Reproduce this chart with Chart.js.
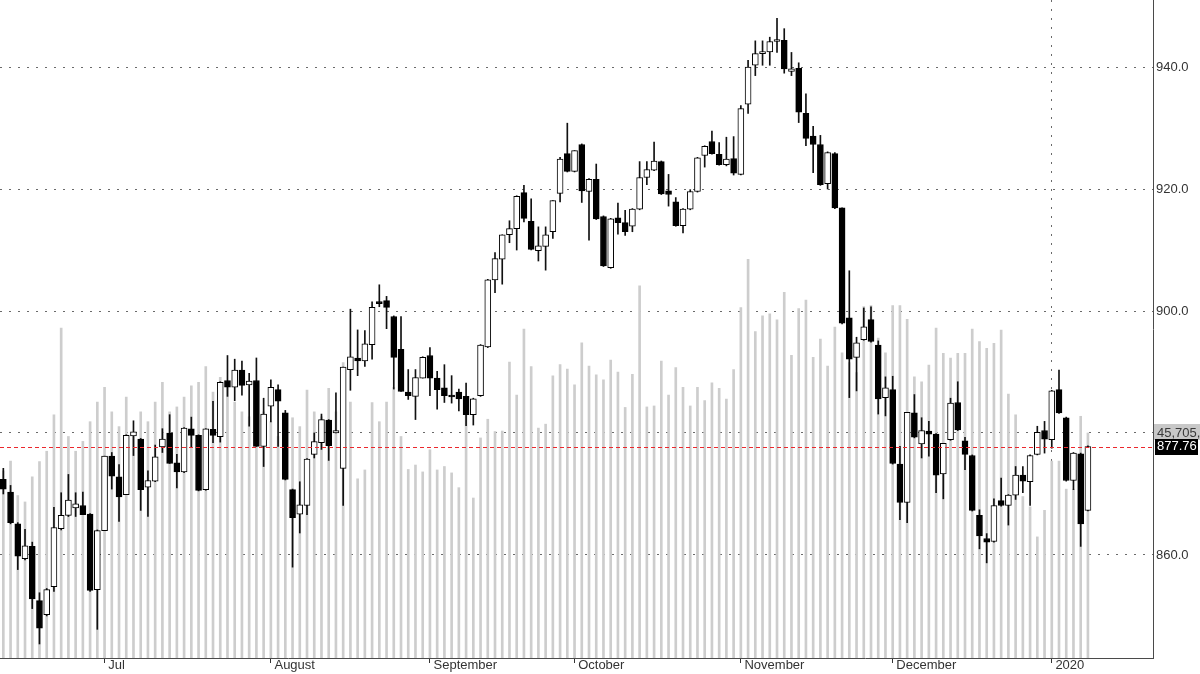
<!DOCTYPE html>
<html>
<head>
<meta charset="utf-8">
<script src="https://cdn.jsdelivr.net/npm/chart.js@4.4.1/dist/chart.umd.min.js"></script>
<style>
  html, body { margin: 0; padding: 0; background: #fff; }
  #wrap { width: 1200px; height: 674px; }
</style>
</head>
<body>
<div id="wrap"><canvas id="price-chart" width="1200" height="674"></canvas></div>
<script>
// Daily candles, mid June 2019 - early January 2020 (index = trading day)
const openPrices = [
    872.4, 870.3, 865.1, 859.4, 861.4, 852.5, 850.2, 854.8, 864.3, 866.5,
    867.7, 868.1, 866.7, 854.3, 864.0, 876.2, 872.8, 869.9, 879.5, 879.0,
    871.1, 872.1, 877.7, 880.0, 875.1, 873.6, 880.7, 879.6, 870.7, 880.6,
    879.4, 888.6, 887.5, 890.3, 887.9, 888.6, 877.8, 884.4, 887.1, 883.3,
    870.7, 866.7, 868.1, 876.5, 878.4, 882.1, 880.0, 874.2, 890.4, 892.3,
    891.8, 894.5, 901.3, 901.7, 899.1, 893.7, 886.7, 886.0, 889.0, 892.7,
    889.0, 887.4, 886.1, 886.7, 886.0, 883.0, 886.1, 894.1, 905.1, 908.5,
    912.5, 913.5, 919.4, 914.7, 909.9, 910.6, 913.0, 919.3, 925.8, 922.9,
    927.3, 919.6, 921.6, 915.5, 907.1, 915.3, 914.5, 913.9, 916.7, 921.9,
    923.1, 924.5, 919.7, 917.9, 914.0, 916.7, 919.6, 925.5, 927.8, 925.7,
    924.0, 925.0, 922.4, 933.9, 940.3, 942.2, 942.5, 944.2, 944.4, 939.3,
    939.8, 932.4, 928.7, 927.3, 920.9, 925.8, 916.9, 898.9, 892.4, 895.3,
    898.6, 894.4, 885.8, 887.1, 874.9, 868.6, 883.3, 878.2, 880.3, 879.8,
    873.3, 878.9, 885.0, 878.7, 876.3, 866.5, 862.7, 862.2, 868.9, 868.1,
    869.8, 873.1, 872.0, 876.5, 880.4, 878.9, 887.1, 882.5, 872.2, 876.6,
    867.3
];
const highPrices = [
    874.2, 871.4, 865.3, 864.2, 862.1, 853.8, 854.5, 867.8, 870.2, 873.2,
    870.2, 870.3, 866.8, 864.1, 876.2, 876.8, 874.8, 879.7, 882.0, 879.1,
    873.8, 878.0, 880.7, 883.0, 876.5, 880.9, 882.6, 879.7, 880.7, 885.2,
    888.4, 892.7, 892.1, 891.8, 889.8, 892.3, 885.7, 888.7, 887.9, 883.7,
    870.8, 872.0, 875.8, 880.0, 883.1, 882.2, 886.6, 890.8, 900.3, 896.9,
    896.8, 901.5, 904.3, 902.4, 899.2, 899.1, 890.4, 890.4, 892.5, 894.0,
    890.1, 891.2, 889.4, 887.2, 888.2, 885.7, 894.5, 905.2, 909.6, 912.5,
    914.8, 918.9, 920.6, 918.4, 913.8, 913.8, 918.1, 925.2, 930.8, 926.3,
    927.4, 921.7, 924.1, 915.6, 915.2, 917.7, 916.5, 916.8, 924.5, 924.5,
    927.7, 924.6, 922.4, 918.6, 916.8, 919.9, 925.2, 927.1, 929.5, 927.6,
    928.5, 928.6, 933.7, 941.1, 944.3, 944.3, 944.9, 948.0, 946.3, 942.4,
    940.7, 935.6, 930.3, 928.8, 926.1, 926.0, 916.9, 906.6, 895.7, 900.5,
    900.7, 895.1, 889.2, 889.3, 877.8, 883.4, 886.3, 882.5, 881.9, 879.9,
    878.3, 885.7, 888.4, 879.3, 876.4, 867.4, 863.5, 869.2, 872.6, 869.9,
    874.5, 874.5, 876.4, 881.1, 881.9, 887.0, 890.3, 882.6, 876.8, 876.7,
    877.9
];
const lowPrices = [
    870.0, 865.1, 857.6, 859.2, 851.2, 845.4, 850.0, 854.0, 864.1, 866.3,
    866.3, 866.6, 854.0, 847.8, 864.0, 870.8, 865.5, 869.9, 876.3, 867.3,
    866.3, 872.0, 876.8, 875.0, 871.0, 873.5, 877.7, 870.5, 870.6, 878.4,
    878.5, 886.0, 885.3, 886.2, 881.1, 877.8, 874.5, 881.8, 877.8, 872.3,
    858.0, 863.6, 866.6, 875.9, 877.3, 875.5, 880.0, 868.1, 887.0, 889.4,
    890.9, 892.1, 900.7, 897.1, 887.2, 886.8, 885.5, 882.2, 889.0, 886.1,
    883.9, 885.0, 884.9, 883.6, 881.2, 881.3, 886.0, 894.0, 903.0, 904.4,
    911.2, 910.0, 914.6, 910.0, 908.2, 906.7, 911.9, 917.9, 922.8, 922.8,
    917.8, 911.6, 915.0, 907.3, 907.0, 912.6, 912.4, 913.0, 916.6, 920.7,
    923.0, 919.1, 917.2, 913.9, 912.8, 916.6, 919.5, 923.6, 925.7, 923.9,
    923.8, 922.3, 922.3, 932.4, 938.6, 940.3, 940.3, 942.4, 939.0, 938.6,
    930.9, 927.1, 922.7, 920.6, 920.0, 916.8, 897.9, 885.8, 886.9, 895.2,
    894.9, 883.1, 882.8, 874.9, 865.8, 865.3, 879.2, 875.9, 876.2, 870.2,
    869.2, 878.8, 880.4, 874.0, 867.2, 861.0, 858.7, 862.1, 868.0, 864.9,
    869.1, 870.2, 868.1, 876.4, 876.7, 877.5, 883.2, 872.1, 870.7, 861.4,
    867.2
];
const closePrices = [
    870.8, 865.3, 859.8, 861.5, 852.8, 848.0, 854.3, 864.5, 866.5, 869.0,
    868.4, 866.6, 854.2, 864.0, 876.2, 872.9, 869.5, 879.6, 880.2, 870.7,
    872.2, 876.1, 879.0, 875.0, 873.6, 880.8, 879.6, 870.6, 880.7, 879.6,
    888.3, 887.5, 890.3, 887.8, 888.5, 877.8, 883.1, 887.5, 885.2, 872.4,
    866.1, 868.2, 875.7, 878.6, 882.2, 877.9, 880.4, 890.8, 892.5, 891.8,
    894.6, 900.6, 901.2, 900.6, 892.4, 886.8, 886.1, 889.1, 892.4, 889.0,
    887.1, 886.1, 885.9, 885.6, 883.0, 885.6, 894.4, 905.1, 908.6, 912.5,
    913.5, 918.8, 915.2, 910.1, 910.7, 912.5, 918.1, 924.9, 922.9, 926.3,
    919.7, 921.6, 915.1, 907.4, 915.1, 914.5, 913.0, 916.7, 921.9, 923.2,
    924.6, 919.2, 919.1, 914.0, 916.7, 919.6, 925.1, 927.0, 925.8, 924.0,
    924.9, 922.6, 933.2, 940.0, 942.2, 942.5, 944.2, 944.5, 939.7, 939.7,
    932.6, 928.3, 927.3, 920.7, 926.0, 916.9, 898.0, 892.1, 894.8, 897.4,
    895.0, 885.6, 887.4, 875.0, 868.6, 883.4, 879.3, 880.4, 879.8, 873.1,
    878.3, 884.9, 880.5, 876.5, 867.3, 863.1, 862.1, 868.1, 868.1, 869.8,
    873.1, 872.1, 876.3, 880.1, 879.0, 886.9, 883.3, 872.2, 876.7, 865.1,
    877.76
];
// Volume in millions
const volumes = [
    38.0, 40.0, 33.0, 31.7, 36.8, 39.9, 42.0, 49.4, 67.0, 45.0,
    42.0, 44.0, 48.0, 52.0, 55.0, 50.0, 47.0, 53.0, 45.0, 50.0,
    48.0, 52.0, 56.0, 50.0, 51.0, 53.0, 55.3, 56.0, 59.2, 54.0,
    57.0, 56.0, 52.0, 50.0, 49.0, 52.0, 50.0, 48.0, 45.0, 46.0,
    48.8, 47.0, 54.4, 50.0, 49.0, 54.8, 50.0, 60.0, 52.0, 36.4,
    38.2, 51.9, 48.0, 52.0, 55.0, 45.0, 38.3, 39.2, 37.8, 42.3,
    38.2, 38.9, 37.6, 34.6, 49.4, 32.5, 44.7, 48.5, 46.0, 46.1,
    60.1, 53.4, 66.8, 59.2, 46.7, 47.5, 57.3, 59.6, 58.7, 55.5,
    64.0, 59.3, 57.5, 56.5, 60.5, 58.1, 50.9, 57.6, 75.6, 51.0,
    51.2, 60.3, 53.4, 59.0, 55.0, 51.2, 55.0, 52.3, 55.9, 54.8,
    52.6, 58.6, 71.2, 81.0, 66.3, 69.5, 69.9, 68.7, 74.3, 61.5,
    71.0, 72.7, 61.1, 64.8, 59.3, 67.2, 62.0, 60.0, 58.0, 71.4,
    71.6, 65.0, 62.0, 71.6, 71.6, 68.8, 57.1, 56.1, 59.5, 67.0,
    61.9, 60.9, 61.9, 61.9, 66.8, 64.3, 62.9, 63.9, 66.6, 53.6,
    49.4, 32.8, 30.7, 24.6, 30.0, 40.0, 40.0, 34.3, 34.3, 49.1,
    45.705
];

// Month labels on the time axis (index of first trading day)
const monthTickIndex = [14, 37, 59, 79, 102, 123, 145];
const monthTickLabels = ['Jul', 'August', 'September', 'October', 'November', 'December', '2020'];
const yearTickIndex = 145;

// Price axis labels
const priceTicks = [860, 880, 900, 920, 940];

Chart.defaults.font.family = "'Liberation Sans', Arial, sans-serif";

// Function to get month label for an index
function monthLabel(value) {
    const pos = monthTickIndex.indexOf(value);
    return pos >= 0 ? ' ' + monthTickLabels[pos] : '';
}

// Function to drop the edge padding chart.js keeps for end labels
function noEdgePadding(scale) {
    scale.paddingTop = 0;
    scale.paddingBottom = 0;
    scale.paddingLeft = 0;
    scale.paddingRight = 0;
}

// Build data for the library
const volumeData = volumes.map((v, i) => ({ x: i, y: v }));
const wickData = highPrices.map((h, i) => ({ x: i, y: [lowPrices[i], h] }));
const bodyData = openPrices.map((o, i) => ({ x: i, y: [o, closePrices[i]] }));
const bodyColors = openPrices.map((o, i) => closePrices[i] >= o ? '#ffffff' : '#000000');

// Last close line + value boxes on the right
const lastValueMarkers = {
    id: 'lastValueMarkers',
    afterDatasetsDraw(chart) {
        // dashed red line at the last close, drawn as short segments
        const { ctx, chartArea, scales } = chart;
        const yClose = Math.round(scales.y.getPixelForValue(closePrices[closePrices.length - 1]));
        ctx.save();
        ctx.fillStyle = 'rgb(235, 40, 45)';
        for (let x = chartArea.left; x < chartArea.right; x += 7) {
            ctx.fillRect(x, yClose, Math.min(4, chartArea.right - x), 1);
        }
        ctx.restore();
    },
    afterDraw(chart) {
        const { ctx, chartArea, scales } = chart;
        const lastClose = closePrices[closePrices.length - 1];
        const lastVolume = volumes[volumes.length - 1];
        const yClose = scales.y.getPixelForValue(lastClose);
        const yVol = scales.yVol.getPixelForValue(lastVolume);

        ctx.save();
        ctx.font = "13px 'Liberation Sans', Arial, sans-serif";
        ctx.textBaseline = 'middle';
        ctx.textAlign = 'left';

        // volume box
        ctx.fillStyle = '#c8c8c8';
        ctx.fillRect(chartArea.right + 1, Math.round(yVol) - 9, chart.width - chartArea.right, 16);
        ctx.fillStyle = '#3a3a3a';
        ctx.fillText(Math.round(lastVolume * 1e6).toLocaleString('en-US'), chartArea.right + 4, yVol);

        // close box
        ctx.fillStyle = '#000';
        ctx.fillRect(chartArea.right + 2, Math.round(yClose) - 8, 43, 16);
        ctx.fillStyle = '#fff';
        ctx.fillText(lastClose.toFixed(2), chartArea.right + 4, yClose);
        ctx.restore();
    }
};

const priceCanvas = document.getElementById('price-chart');

new Chart(priceCanvas.getContext('2d'), {
    type: 'bar',
    data: {
        datasets: [
            {
                label: 'Volume',
                data: volumeData,
                yAxisID: 'yVol',
                backgroundColor: '#cdcdcd',
                barThickness: 2,
                grouped: false,
                order: 3
            },
            {
                label: 'Range',
                data: wickData,
                yAxisID: 'y',
                backgroundColor: '#111',
                barThickness: 1,
                grouped: false,
                order: 2
            },
            {
                label: 'Body',
                data: bodyData,
                yAxisID: 'y',
                backgroundColor: bodyColors,
                borderColor: '#000',
                borderWidth: 1,
                borderSkipped: false,
                barThickness: 6,
                minBarLength: 2,
                grouped: false,
                order: 1
            }
        ]
    },
    options: {
        responsive: false,
        animation: false,
        layout: { padding: 0 },
        plugins: {
            legend: { display: false },
            tooltip: { enabled: false }
        },
        scales: {
            x: {
                type: 'linear',
                min: -0.46,
                max: 159,
                offset: false,
                afterBuildTicks: (scale) => { scale.ticks = monthTickIndex.map(v => ({ value: v })); },
                afterFit: (scale) => { scale.height = 16; noEdgePadding(scale); },
                grid: {
                    offset: false,
                    color: (ctx) => (ctx.tick && ctx.tick.value === yearTickIndex) ? '#6a6a6a' : 'rgba(0,0,0,0)',
                    tickColor: '#333',
                    tickLength: 5,
                    lineWidth: 1
                },
                border: { display: true, color: '#4a4a4a', dash: [2, 7] },
                ticks: {
                    autoSkip: false,
                    maxRotation: 0,
                    align: 'start',
                    padding: -5,
                    color: '#333',
                    font: { size: 13 },
                    callback: (value) => monthLabel(value)
                }
            },
            y: {
                position: 'right',
                min: 843.1,
                max: 951,
                afterBuildTicks: (scale) => { scale.ticks = priceTicks.map(v => ({ value: v })); },
                afterFit: (scale) => { scale.width = 47; noEdgePadding(scale); },
                grid: { color: '#6a6a6a', drawTicks: false, lineWidth: 1 },
                border: { display: true, color: '#4a4a4a', dash: [2, 7] },
                ticks: {
                    padding: 3,
                    color: '#333',
                    font: { size: 13 },
                    callback: (value) => value.toFixed(1)
                }
            },
            yVol: {
                display: false,
                min: 0,
                max: 133.66
            }
        }
    },
    plugins: [lastValueMarkers]
});
</script>
</body>
</html>
